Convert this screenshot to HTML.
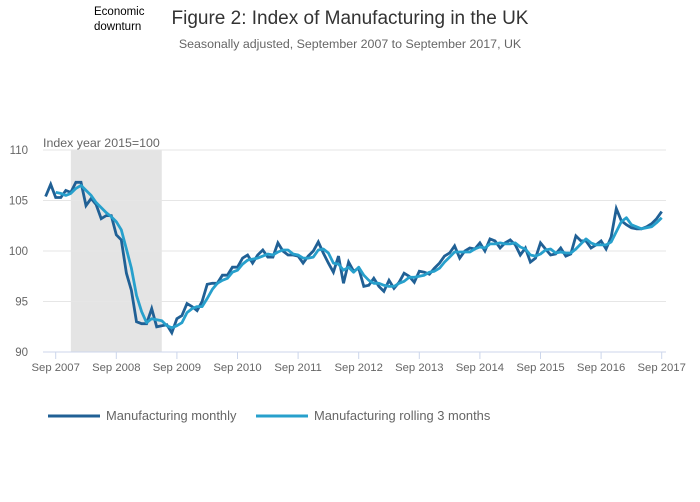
<!DOCTYPE html>
<html><head><meta charset="utf-8">
<style>
body{margin:0;background:#fff;}
svg{display:block;font-family:"Liberation Sans",sans-serif;}
</style></head>
<body>
<svg id="chart" width="700" height="502" viewBox="0 0 700 502">
  <text x="94" y="15" font-size="11.5" fill="#000">Economic</text>
  <text x="94" y="30" font-size="11.5" fill="#000">downturn</text>
  <text x="350" y="24" font-size="19" fill="#333" text-anchor="middle">Figure 2: Index of Manufacturing in the UK</text>
  <text x="350" y="48" font-size="12.4" fill="#666" text-anchor="middle">Seasonally adjusted, September 2007 to September 2017, UK</text>
  <text x="43" y="147" font-size="12.4" fill="#666">Index year 2015=100</text>
  <g id="grid"></g>
  <g id="plot"></g>
  <g id="xaxis"></g>
  <g>
    <line x1="48" y1="416" x2="100" y2="416" stroke="#206095" stroke-width="3"/>
    <text x="106" y="420" font-size="12.9" fill="#666">Manufacturing monthly</text>
    <line x1="256" y1="416" x2="308" y2="416" stroke="#27a0cc" stroke-width="3"/>
    <text x="314" y="420" font-size="12.9" fill="#666">Manufacturing rolling 3 months</text>
  </g>
</svg>
<script>
const monthly = [105.4,106.6,105.3,105.3,106.0,105.8,106.8,106.8,104.5,105.2,104.6,103.2,103.5,103.5,101.6,101.1,97.8,96.1,93.0,92.8,92.8,94.3,92.5,92.6,92.7,91.9,93.3,93.6,94.8,94.5,94.1,95.0,96.7,96.8,96.8,97.6,97.6,98.4,98.4,99.3,99.6,98.8,99.6,100.1,99.4,99.4,100.8,100.0,99.6,99.6,99.5,98.8,99.5,100.0,100.9,99.8,98.8,97.9,99.5,96.8,98.9,98.0,98.3,96.5,96.6,97.3,96.5,96.0,97.1,96.3,96.9,97.8,97.5,96.9,98.0,97.9,97.7,98.3,98.8,99.5,99.8,100.5,99.3,100.0,100.3,100.2,100.8,100.0,101.2,101.0,100.3,100.8,101.1,100.6,99.6,100.3,98.9,99.3,100.8,100.2,99.6,99.7,100.3,99.5,99.7,101.5,101.0,101.0,100.3,100.6,101.0,100.2,101.4,104.2,103.0,102.6,102.3,102.2,102.2,102.4,102.7,103.2,103.9];
const monthlyStart = -2; // months after Sep 2007
const rolling = [105.8,105.7,105.5,105.7,106.2,106.5,106.0,105.5,104.8,104.3,103.8,103.4,102.9,102.1,100.2,98.3,95.6,94.0,92.9,93.3,93.2,93.1,92.6,92.4,92.6,92.9,93.9,94.3,94.5,94.5,95.3,96.2,96.8,97.1,97.3,97.9,98.1,98.7,99.1,99.2,99.3,99.5,99.7,99.6,99.9,100.1,100.1,99.7,99.6,99.3,99.3,99.4,100.1,100.2,99.8,98.8,98.7,98.1,98.4,97.9,98.4,97.6,97.1,96.8,96.8,96.6,96.5,96.5,96.8,97.0,97.4,97.4,97.5,97.6,97.9,98.0,98.3,98.9,99.4,99.9,99.9,99.9,99.9,100.2,100.4,100.3,100.7,100.7,100.8,100.7,100.7,100.8,100.4,100.2,99.6,99.5,99.7,100.1,100.2,99.8,99.9,99.8,99.8,100.2,100.7,101.2,100.8,100.6,100.6,100.6,100.9,101.9,102.9,103.3,102.6,102.4,102.2,102.3,102.4,102.8,103.3];
const rollingStart = 0;
const yTicks = [90,95,100,105,110];
const xTickLabels = ["Sep 2007","Sep 2008","Sep 2009","Sep 2010","Sep 2011","Sep 2012","Sep 2013","Sep 2014","Sep 2015","Sep 2016","Sep 2017"];
const downturn = [3, 21]; // months after Sep 2007

const NS = "http://www.w3.org/2000/svg";
const X0 = 55.7, PXM = 5.05, Y0 = 352, YMIN = 90, YMAX = 110, PLOT_TOP = 150;
function xs(m){ return X0 + m*PXM; }
function ys(v){ return Y0 - (v-YMIN)/(YMAX-YMIN)*(Y0-PLOT_TOP); }
function mk(tag, attrs, parent){ const e=document.createElementNS(NS,tag); for(const k in attrs) e.setAttribute(k,attrs[k]); parent.appendChild(e); return e; }

const grid=document.getElementById('grid'), plot=document.getElementById('plot'), xa=document.getElementById('xaxis');
const shade = mk('rect',{x:xs(downturn[0]),y:PLOT_TOP,width:xs(downturn[1])-xs(downturn[0]),height:Y0-PLOT_TOP,fill:'#e4e4e4'},grid);


yTicks.forEach(v=>{
  if(v>YMIN){
    const l=mk('line',{x1:43,x2:666,y1:ys(v),y2:ys(v),stroke:'#e6e6e6','stroke-width':1},grid);
    
    
  }
  const t=mk('text',{x:28,y:ys(v)+4,'font-size':11.5,fill:'#666','text-anchor':'end'},grid);
  t.textContent=v;
  
  
});
const ax=mk('line',{x1:43,x2:666,y1:Y0,y2:Y0,stroke:'#ccd6eb','stroke-width':1},xa);


xTickLabels.forEach((lab,i)=>{
  const x=xs(i*12);
  const tk=mk('line',{x1:x,x2:x,y1:Y0,y2:Y0+7,stroke:'#ccd6eb'},xa);
  
  
  const t=mk('text',{x:x,y:Y0+19,'font-size':11.3,fill:'#666','text-anchor':'middle'},xa);
  t.textContent=lab;
  
  
});
function path(arr,start){ return arr.map((v,i)=>(i?'L':'M')+xs(start+i).toFixed(1)+','+ys(v).toFixed(1)).join(''); }
const pm=mk('path',{d:path(monthly,monthlyStart),fill:'none',stroke:'#206095','stroke-width':2.8,'stroke-linejoin':'miter'},plot);


const pr=mk('path',{d:path(rolling,rollingStart),fill:'none',stroke:'#27a0cc','stroke-width':2.8,'stroke-linejoin':'round'},plot);


</script>
</body></html>
